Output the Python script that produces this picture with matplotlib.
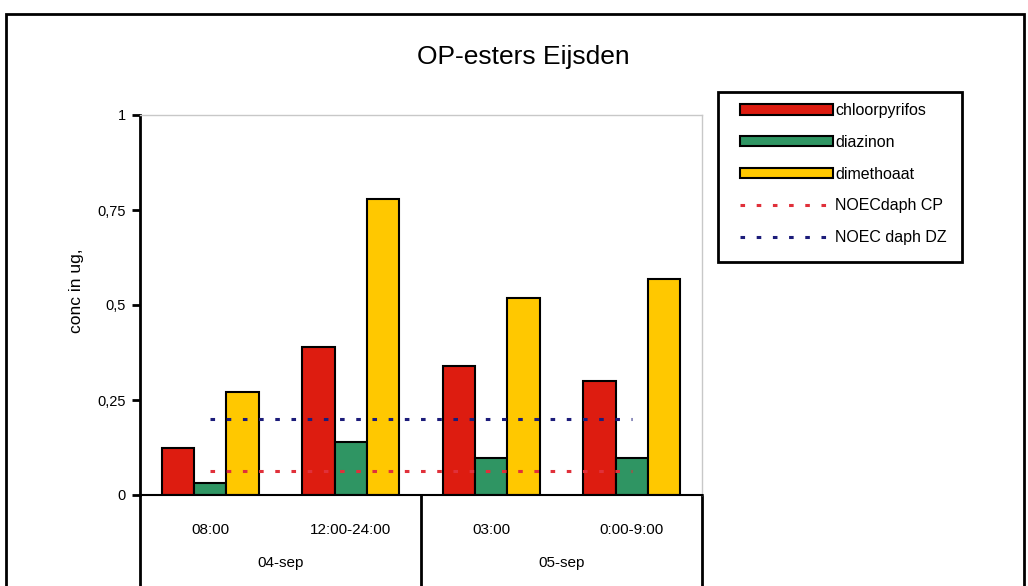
import matplotlib
matplotlib.use("Agg")
import matplotlib.pyplot as pyplot
from matplotlib.patches import Rectangle
import numpy as np

# data
times = ['08:00', '12:00-24:00', '03:00', '0:00-9:00']
days = ['04-sep', '05-sep']
chloorpyrifos = [0.125, 0.39, 0.34, 0.30]
diazinon = [0.032, 0.14, 0.097, 0.097]
dimethoaat = [0.272, 0.778, 0.518, 0.568]
noec_cp = [0.062, 0.062, 0.062, 0.062]
noec_dz = [0.2, 0.2, 0.2, 0.2]
yticks = [0, 0.25, 0.5, 0.75, 1]
ytick_labels = ['0', '0,25', '0,5', '0,75', '1']

pyplot.rcParams['font.family'] = ['Liberation Sans', 'DejaVu Sans']

fig = pyplot.figure(figsize=(10.28, 5.86), dpi=100)
ax = fig.add_axes([140 / 1028, 91 / 586, 562 / 1028, 380 / 586])

x = np.arange(len(times))
width = 0.23

ax.bar(x - width, chloorpyrifos, width, color='#DD1C10', edgecolor='black', linewidth=1.5, label='chloorpyrifos', zorder=2)
ax.bar(x, diazinon, width, color='#2F9563', edgecolor='black', linewidth=1.5, label='diazinon', zorder=2)
ax.bar(x + width, dimethoaat, width, color='#FFC800', edgecolor='black', linewidth=1.5, label='dimethoaat', zorder=2)

ax.plot(x, noec_cp, color='#E0303A', linewidth=2.2, linestyle=(0, (1.5, 3.8)), label='NOECdaph CP', zorder=3)
ax.plot(x, noec_dz, color='#1C1C7A', linewidth=2.2, linestyle=(0, (1.5, 3.8)), label='NOEC daph DZ', zorder=3)

ax.set_xlim(-0.5, 3.5)
ax.set_ylim(0, 1)
ax.set_yticks(yticks)
ax.set_yticklabels(ytick_labels, fontsize=10.5)
ax.tick_params(axis='y', direction='out', length=6, width=2, pad=4)
ax.set_xticks(x)
ax.set_xticklabels(times, fontsize=11)
ax.tick_params(axis='x', length=0, pad=20)

ax.spines['left'].set_linewidth(2)
ax.spines['bottom'].set_linewidth(1.5)
for side in ['top', 'right']:
	ax.spines[side].set_color('#C8C8C8')
	ax.spines[side].set_linewidth(1)

fig.text(76 / 1028, 1 - 291 / 586, 'conc in ug,', rotation=90, ha='center', va='center', fontsize=12.5)

# category table under the axis
for xpos in [-0.5, 1.5, 3.5]:
	ax.plot([xpos, xpos], [0, -0.26], color='black', linewidth=2, clip_on=False)
for i, day in enumerate(days):
	ax.text(0.5 + 2 * i, -0.18, day, ha='center', va='center', fontsize=11,
			transform=ax.get_xaxis_transform())

handles, labels = ax.get_legend_handles_labels()
order = [2, 3, 4, 0, 1]
leg = fig.legend([handles[i] for i in order], [labels[i] for i in order],
				loc='upper left', bbox_to_anchor=(740 / 1028, 1 - 103 / 586),
				fontsize=11.5, frameon=False, handlelength=5.8, handleheight=0.65,
				handletextpad=0.15, labelspacing=1.05, borderpad=0,
				borderaxespad=0)

# legend box
fig.patches.append(Rectangle((718 / 1028, 1 - 262 / 586), 244 / 1028, 170 / 586,
							 transform=fig.transFigure, fill=False,
							 edgecolor='black', linewidth=2))

fig.text(523 / 1028, 1 - 57 / 586, 'OP-esters Eijsden', ha='center', va='center', fontsize=19)

# outer frame
fig.patches.append(Rectangle((6 / 1028, -0.05), 1018 / 1028, 1.05 - 14 / 586,
							 transform=fig.transFigure, fill=False,
							 edgecolor='black', linewidth=2))

pyplot.savefig('out.png', dpi=100)
